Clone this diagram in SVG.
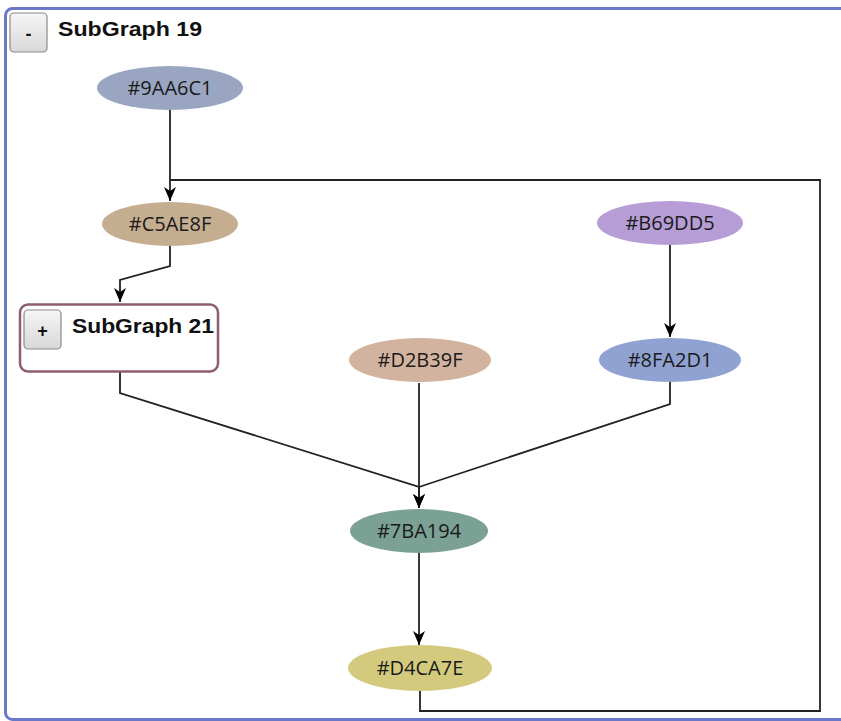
<svg xmlns="http://www.w3.org/2000/svg" width="841" height="721" viewBox="0 0 841 721">
<defs>
<linearGradient id="btn" x1="0" y1="0" x2="0" y2="1">
<stop offset="0" stop-color="#f6f6f6"/>
<stop offset="1" stop-color="#d8d8d8"/>
</linearGradient>
<marker id="arr" viewBox="0 0 14 12" refX="14" refY="6" markerWidth="14" markerHeight="12" markerUnits="userSpaceOnUse" orient="auto">
<path d="M0,0 L14,6 L0,12 L4,6 Z" fill="#000"/>
</marker>
</defs>
<style>
.edge{fill:none;stroke:#222;stroke-width:1.8;}
.lbl{font-family:"Segoe UI","Open Sans","Liberation Sans",sans-serif;font-size:20px;fill:#1a1a1a;text-anchor:middle;}
.title{font-family:"Segoe UI","Liberation Sans","Open Sans",sans-serif;font-size:21px;font-weight:bold;fill:#111;}
.btn{fill:url(#btn);stroke:#8a8a8a;stroke-width:1.2;}
.btntxt{font-family:"Liberation Sans",sans-serif;font-size:18px;font-weight:bold;fill:#111;text-anchor:middle;}
</style>
<rect x="0" y="0" width="841" height="721" fill="#fff"/>
<g id="subgraph19">
<rect x="5.5" y="8.5" width="860" height="711" rx="7" fill="#fff" stroke="#6a78c8" stroke-width="3"/>
<rect class="btn" x="10" y="13" width="37" height="39" rx="4"/>
<text class="btntxt" x="28.5" y="40">-</text>
<text class="title" x="58" y="36" textLength="144" lengthAdjust="spacingAndGlyphs">SubGraph 19</text>
</g>
<g id="connectors">
<path class="edge" d="M170,110 V201" marker-end="url(#arr)"/>
<path class="edge" d="M420,690 V711 H820 V180 H170"/>
<path class="edge" d="M170,246 V266 L120,280 V302" marker-end="url(#arr)"/>
<path class="edge" d="M120,372 V393 L419,487 V508" marker-end="url(#arr)"/>
<path class="edge" d="M419,383 V508" marker-end="url(#arr)"/>
<path class="edge" d="M670,382 V404 L419,487"/>
<path class="edge" d="M670,245 V337" marker-end="url(#arr)"/>
<path class="edge" d="M419,553 V645" marker-end="url(#arr)"/>
</g>
<g id="subgraph21">
<rect x="20" y="304.5" width="198" height="67" rx="8" fill="#fff" stroke="#8c5e70" stroke-width="2.5"/>
<rect class="btn" x="24" y="310" width="37" height="39" rx="4"/>
<text class="btntxt" x="42.5" y="337">+</text>
<text class="title" x="72" y="333" textLength="142" lengthAdjust="spacingAndGlyphs">SubGraph 21</text>
</g>
<g id="n9AA6C1"><ellipse cx="170" cy="88" rx="73" ry="22" fill="#9AA6C1"/><text class="lbl" x="170" y="95">#9AA6C1</text></g>
<g id="nC5AE8F"><ellipse cx="170" cy="224" rx="68" ry="22" fill="#C5AE8F"/><text class="lbl" x="170" y="231">#C5AE8F</text></g>
<g id="nB69DD5"><ellipse cx="670" cy="223" rx="73" ry="22" fill="#B69DD5"/><text class="lbl" x="670" y="230">#B69DD5</text></g>
<g id="n8FA2D1"><ellipse cx="670" cy="360" rx="71" ry="22" fill="#8FA2D1"/><text class="lbl" x="670" y="367">#8FA2D1</text></g>
<g id="nD2B39F"><ellipse cx="420" cy="360" rx="71" ry="22" fill="#D2B39F"/><text class="lbl" x="420" y="367">#D2B39F</text></g>
<g id="n7BA194"><ellipse cx="419" cy="531" rx="69" ry="22" fill="#7BA194"/><text class="lbl" x="419" y="538">#7BA194</text></g>
<g id="nD4CA7E"><ellipse cx="420" cy="668" rx="72" ry="23" fill="#D4CA7E"/><text class="lbl" x="420" y="675">#D4CA7E</text></g>
</svg>
